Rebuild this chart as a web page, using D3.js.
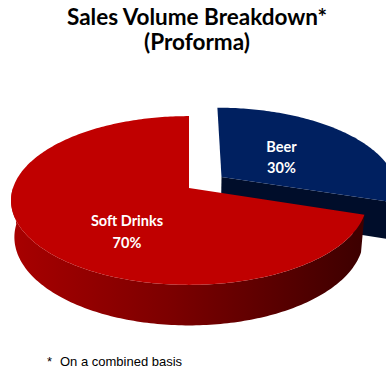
<!DOCTYPE html>
<html>
<head>
<meta charset="utf-8">
<script src="https://cdn.jsdelivr.net/npm/d3@7"></script>
<style>
  html, body { margin: 0; padding: 0; background: #fff; }
  svg { display: block; }
</style>
</head>
<body>
<div class="chart"></div>
<script>
// chart data
var categories = ["Beer", "Soft Drinks"];
var values = [30, 70];
var percentLabels = ["30%", "70%"];
var titleLines = ["Sales Volume Breakdown*", "(Proforma)"];
var footnote = ["*", "On a combined basis"];

(function drawPie() {
	"use strict";
	var width = 386;
	var height = 372;

	var svg = d3.select(".chart")
				.append("svg")
				.attr("width", width)
				.attr("height", height);

	svg.append("rect")
	   .attr("width", width)
	   .attr("height", height)
	   .attr("fill", "#fff");

	// 3d projection of the pie disk
	var cx = 189, cy = 188;
	var R = 176, H = 42, D = 1050;
	var sinE = 0.469, cosE = Math.sqrt(1 - sinE * sinE);
	var explode = { "Beer": 41, "Soft Drinks": 0 };
	var colors = {
		"Beer": { top: "#002060", side: "#000f2e", cut: "#000d2a" },
		"Soft Drinks": { top: "#c00000", side: "url(#redSide)", cut: "#6a0000" }
	};

	function proj(u, v, w) {
		var Y = v * sinE + w * cosE;
		var Z = D + v * cosE - w * sinE;
		var k = D / Z;
		return [cx + u * k, cy - Y * k];
	}

	var rScale = d3.scaleLinear().domain([0, 1]).range([0, R]);

	var defs = svg.append("defs");
	var grad = defs.append("linearGradient")
				   .attr("id", "redSide")
				   .attr("x1", 0).attr("x2", 1).attr("y1", 0).attr("y2", 0);
	grad.append("stop").attr("offset", "0%").attr("stop-color", "#a80000");
	grad.append("stop").attr("offset", "45%").attr("stop-color", "#7c0000");
	grad.append("stop").attr("offset", "100%").attr("stop-color", "#3c0000");

	var pie = d3.pie().sort(null);
	var arcs = pie(values);
	var line = d3.line();

	var g = svg.append("g");

	arcs.forEach(function(a, i) {
		var name = categories[i];
		var mid = (a.startAngle + a.endAngle) / 2;
		var ou = Math.sin(mid) * explode[name];
		var ov = Math.cos(mid) * explode[name];
		var col = colors[name];

		function pt(r, ang, w) {
			return proj(ou + r * Math.sin(ang), ov + r * Math.cos(ang), w);
		}
		function arcPts(a0, a1, w) {
			var pts = [];
			var n = Math.max(2, Math.ceil(Math.abs(a1 - a0) / (Math.PI / 180)));
			for (var j = 0; j <= n; j++) {
				pts.push(pt(R, a0 + (a1 - a0) * j / n, w));
			}
			return pts;
		}

		// cut face at end angle
		var e = a.endAngle;
		var cut = [pt(0, 0, 0), pt(R, e, 0), pt(R, e, -H), pt(0, 0, -H)];
		g.append("path").attr("d", line(cut) + "Z").attr("fill", col.cut);

		// outer side, front half only
		var s0 = Math.max(a.startAngle, Math.PI / 2);
		var s1 = Math.min(a.endAngle, Math.PI * 1.5);
		if (s1 > s0) {
			var side = arcPts(s0, s1, 0).concat(arcPts(s1, s0, -H));
			g.append("path").attr("d", line(side) + "Z").attr("fill", col.side);
		}

		// top face
		var top = [pt(0, 0, 0)].concat(arcPts(a.startAngle, a.endAngle, 0));
		g.append("path").attr("d", line(top) + "Z").attr("fill", col.top);
	});

	// data labels
	var labelPos = { "Beer": [0, 0.455], "Soft Drinks": [-20, 0.585] };
	arcs.forEach(function(a, i) {
		var name = categories[i];
		var mid = (a.startAngle + a.endAngle) / 2;
		var ou = Math.sin(mid) * explode[name];
		var ov = Math.cos(mid) * explode[name];
		var ang = mid + labelPos[name][0] * Math.PI / 180;
		var r = rScale(labelPos[name][1]);
		var p = proj(ou + r * Math.sin(ang), ov + r * Math.cos(ang), 0);
		var t = svg.append("text")
				   .attr("x", p[0])
				   .attr("y", p[1] - 5)
				   .attr("text-anchor", "middle")
				   .attr("fill", "#fff")
				   .style("font-family", "Lato, 'Open Sans', sans-serif")
				   .style("font-weight", "bold")
				   .style("font-size", "14.5px");
		t.append("tspan").attr("x", p[0]).text(name);
		t.append("tspan").attr("x", p[0]).attr("dy", 21.5).text(percentLabels[i]);
	});

	// title
	svg.selectAll(".title")
	   .data(titleLines)
	   .enter()
	   .append("text")
	   .attr("class", "title")
	   .attr("x", 197)
	   .attr("y", function(d, i) { return 25 + i * 25; })
	   .attr("text-anchor", "middle")
	   .attr("fill", "#000")
	   .style("font-family", "Lato, 'Open Sans', sans-serif")
	   .style("font-weight", "bold")
	   .style("font-size", "22.5px")
	   .text(function(d) { return d; });

	// footnote
	svg.append("text")
	   .attr("x", 47).attr("y", 366)
	   .style("font-family", "'Liberation Sans', Arial, sans-serif")
	   .style("font-size", "13px")
	   .text(footnote[0]);
	svg.append("text")
	   .attr("x", 60).attr("y", 366)
	   .style("font-family", "'Liberation Sans', Arial, sans-serif")
	   .style("font-size", "13px")
	   .text(footnote[1]);
}());
</script>
</body>
</html>
